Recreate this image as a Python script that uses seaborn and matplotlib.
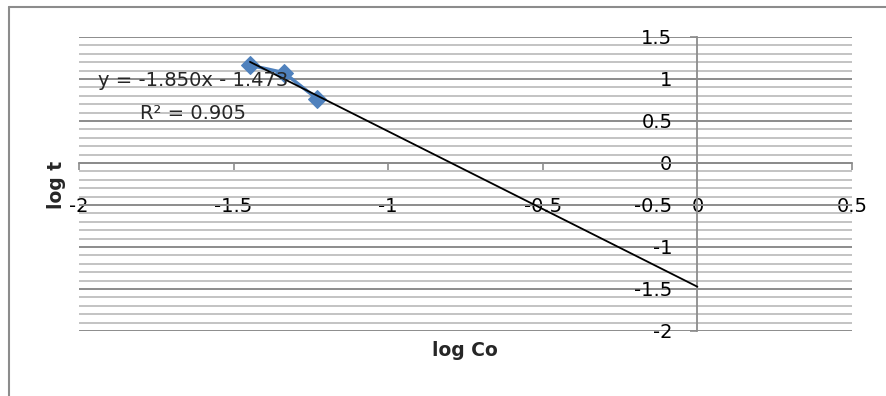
import matplotlib
matplotlib.use('Agg')
import matplotlib.pyplot as plt
import seaborn as sns
import pandas as pd
import numpy as np
from matplotlib.ticker import MultipleLocator
from matplotlib.lines import Line2D

# ---- data ----
log_co = [-1.447, -1.337, -1.229]
log_t = [1.164, 1.075, 0.761]
slope = -1.850
intercept = -1.473
r_squared = 0.905
x_ticks = [-2, -1.5, -1, -0.5, 0, 0.5]
y_ticks = [-2, -1.5, -1, -0.5, 0, 0.5, 1, 1.5]
x_label = 'log Co'
y_label = 'log t'

sns.set_style('white')
plt.rcParams['font.family'] = ['DejaVu Sans']

W, H = 886, 396
fig = plt.figure(figsize=(W / 100, H / 100), dpi=100)
ax = fig.add_axes([79 / W, 1 - 331 / H, (852 - 79) / W, (331 - 37) / H])

df = pd.DataFrame({'x': log_co, 'y': log_t})
sns.lineplot(data=df, x='x', y='y', sort=False, marker='D', markersize=9.5,
             color='#4f81bd', markeredgecolor='#4f81bd', linewidth=2.5,
             ax=ax, zorder=3)

trend_x = np.array([min(log_co), 0.0])
ax.plot(trend_x, slope * trend_x + intercept, color='black', lw=1.3, zorder=4)

ax.set_xlim(-2, 0.5)
ax.set_ylim(-2, 1.5)
ax.set_xticks(x_ticks)
ax.set_xticklabels([f'{v:g}' for v in x_ticks])
ax.set_yticks(y_ticks)
ax.set_yticklabels([f'{v:g}' for v in y_ticks])
ax.yaxis.set_minor_locator(MultipleLocator(0.1))

ax.set_axisbelow(True)
ax.grid(False)
ax.grid(True, which='minor', axis='y', color='#c3c3c3', lw=1.4)
ax.grid(True, which='major', axis='y', color='#8c8c8c', lw=1.4)

for s in ['top', 'right']:
    ax.spines[s].set_visible(False)
ax.spines['left'].set_position(('data', 0))
ax.spines['bottom'].set_position(('data', 0))
for s in ['left', 'bottom']:
    ax.spines[s].set_color('#8c8c8c')
    ax.spines[s].set_linewidth(1.3)

ax.tick_params(axis='both', which='major', direction='out', length=5,
               width=1.2, color='#8c8c8c', labelsize=14, labelcolor='black',
               left=True, bottom=True)
ax.tick_params(axis='x', which='major', pad=19.5)
ax.tick_params(axis='y', which='major', pad=13)
ax.tick_params(which='minor', length=0)
ax.set_xlabel('')
ax.set_ylabel('')

eq_text = f'y = {slope:.3f}x - {abs(intercept):.3f}'
ax.text(-1.631, 0.988, eq_text, ha='center', va='center', fontsize=14, zorder=5)
ax.text(-1.631, 0.595, f'R² = {r_squared:.3f}', ha='center', va='center',
        fontsize=14, zorder=5)

fig.text(465 / W, 1 - 350 / H, x_label, ha='center', va='center',
         fontweight='bold', fontsize=13.5)
fig.text(56 / W, 1 - 185 / H, y_label, ha='center', va='center',
         rotation=90, fontweight='bold', fontsize=13.5)

# chart-area border (top and left visible)
fig.add_artist(Line2D([9 / W, 1], [1 - 7 / H, 1 - 7 / H],
                      transform=fig.transFigure, color='#8c8c8c', lw=1.5))
fig.add_artist(Line2D([9 / W, 9 / W], [1 - 7 / H, 0],
                      transform=fig.transFigure, color='#8c8c8c', lw=1.5))

fig.savefig('out.png', dpi=100)
